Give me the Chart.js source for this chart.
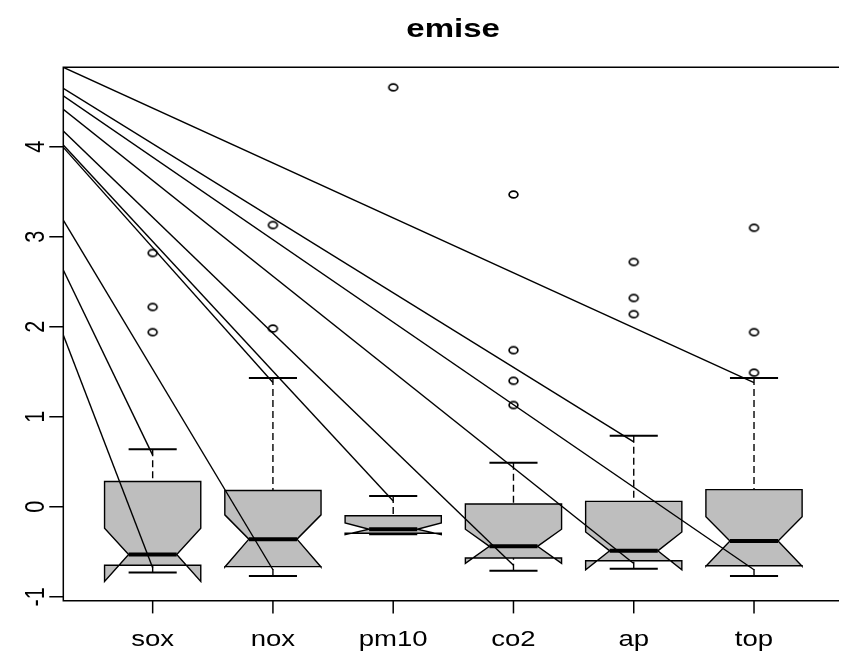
<!DOCTYPE html>
<html>
<head>
<meta charset="utf-8">
<script src="https://cdn.jsdelivr.net/npm/chart.js@4.4.1/dist/chart.umd.min.js"></script>
<style>
  html, body { margin: 0; padding: 0; background: #fff; overflow: hidden; }
  canvas { display: block; }
</style>
</head>
<body>
<canvas id="boxChart" width="843" height="654"></canvas>
<script>
// categories and tick labels
const categories = ['sox', 'nox', 'pm10', 'co2', 'ap', 'top'];
const yTicks = [-1, 0, 1, 2, 3, 4];
const chartTitle = 'emise';

// box statistics
const upperWhisker = [0.64, 1.43, 0.12, 0.49, 0.79, 1.43];
const upperHinge   = [0.28, 0.18, -0.10, 0.03, 0.06, 0.19];
const notchHi      = [-0.24, -0.09, -0.18, -0.25, -0.28, -0.11];
const medians      = [-0.53, -0.36, -0.25, -0.44, -0.49, -0.38];
const notchLo      = [-0.83, -0.67, -0.31, -0.63, -0.70, -0.66];
const lowerHinge   = [-0.65, -0.665, -0.295, -0.57, -0.60, -0.655];
const lowerWhisker = [-0.73, -0.77, -0.305, -0.71, -0.69, -0.77];
const outliers = [
  [2.82, 2.22, 1.94],
  [3.13, 1.98],
  [4.66],
  [3.47, 1.74, 1.40, 1.13],
  [2.72, 2.32, 2.14],
  [3.10, 1.94, 1.49]
];

// straight lines from the left frame down to a box
const lineStartY = [4.883, 4.649, 4.567, 4.416, 4.174, 4.019, 3.993, 3.186, 2.630, 1.908];
const lineEndCat = [6, 5, 6, 5, 4, 3, 2, 2, 1, 1];
const lineEndY   = [1.38, 0.72, -0.70, -0.63, -0.65, 0.063, 1.38, -0.70, 0.574, -0.678];

// axis limits like R's 4% extension
const xMin = 0.257, xMax = 6.69;
const yMin = -1.044, yMax = 4.883;
const boxHalf = 0.4, capHalf = 0.2;

const fontFamily = '"Liberation Sans", Arial, Helvetica, sans-serif';
const stretchX = 1.27;   // the reference is stretched sideways
const boxFill = '#bebebe';

// open circle (slightly wide) for outliers
function makeCircle() {
  const c = document.createElement('canvas');
  c.width = 13; c.height = 11;
  const g = c.getContext('2d');
  g.strokeStyle = '#000';
  g.lineWidth = 1.7;
  g.beginPath();
  g.ellipse(6.5, 5.5, 4.4, 3.4, 0, 0, Math.PI * 2);
  g.stroke();
  return c;
}
const circleImg = makeCircle();

const datasets = [];

lineStartY.forEach((s, i) => {
  datasets.push({
    data: [{ x: xMin, y: s }, { x: lineEndCat[i], y: lineEndY[i] }],
    showLine: true, borderColor: '#000', borderWidth: 1.4, pointRadius: 0, order: 0
  });
});

datasets.push({
  data: outliers.flatMap((vals, i) => vals.map(v => ({ x: i + 1, y: v }))),
  pointStyle: circleImg, pointRadius: 5, order: 1
});

categories.forEach((c, i) => {
  const cx = i + 1;
  const seg = (pts, extra) => Object.assign({
    data: pts, showLine: true, borderColor: '#000', pointRadius: 0, order: 2
  }, extra);
  datasets.push(seg([{ x: cx, y: upperWhisker[i] }, { x: cx, y: upperHinge[i] }], { borderWidth: 1.4, borderDash: [7, 4] }));
  datasets.push(seg([{ x: cx, y: lowerWhisker[i] }, { x: cx, y: lowerHinge[i] }], { borderWidth: 1.4, borderDash: [7, 4] }));
  datasets.push(seg([{ x: cx - capHalf, y: upperWhisker[i] }, { x: cx + capHalf, y: upperWhisker[i] }], { borderWidth: 2 }));
  datasets.push(seg([{ x: cx - capHalf, y: lowerWhisker[i] }, { x: cx + capHalf, y: lowerWhisker[i] }], { borderWidth: 2 }));
  datasets.push(seg([{ x: cx - boxHalf / 2, y: medians[i] }, { x: cx + boxHalf / 2, y: medians[i] }], { borderWidth: 4 }));
});

// stretched text helper
function stretchedText(ctx, text, px, py, font, rot) {
  ctx.save();
  ctx.translate(px, py);
  ctx.scale(stretchX, 1);
  if (rot) ctx.rotate(rot);
  ctx.font = font;
  ctx.fillText(text, 0, 0);
  ctx.restore();
}

const rBoxes = {
  id: 'rBoxes',
  beforeDatasetsDraw(chart) {
    const { ctx, scales: { x, y } } = chart;
    ctx.save();
    categories.forEach((c, i) => {
      const cx = i + 1;
      const pts = [
        [cx - boxHalf, upperHinge[i]], [cx - boxHalf, notchHi[i]], [cx - boxHalf / 2, medians[i]],
        [cx - boxHalf, notchLo[i]], [cx - boxHalf, lowerHinge[i]],
        [cx + boxHalf, lowerHinge[i]], [cx + boxHalf, notchLo[i]], [cx + boxHalf / 2, medians[i]],
        [cx + boxHalf, notchHi[i]], [cx + boxHalf, upperHinge[i]]
      ];
      ctx.beginPath();
      pts.forEach((p, k) => {
        const px = x.getPixelForValue(p[0]), py = y.getPixelForValue(p[1]);
        if (k === 0) ctx.moveTo(px, py); else ctx.lineTo(px, py);
      });
      ctx.closePath();
      ctx.fillStyle = boxFill;
      ctx.fill();
      ctx.lineWidth = 1.4;
      ctx.strokeStyle = '#000';
      ctx.stroke();
    });
    ctx.restore();
  },
  afterDraw(chart) {
    const { ctx, chartArea: a, scales: { x, y } } = chart;
    ctx.save();
    ctx.strokeStyle = '#000';
    ctx.lineWidth = 1.5;
    // frame (right side falls outside the picture)
    ctx.beginPath();
    ctx.moveTo(a.right + 2, a.top);
    ctx.lineTo(a.left, a.top);
    ctx.lineTo(a.left, a.bottom);
    ctx.lineTo(a.right + 2, a.bottom);
    ctx.stroke();

    ctx.fillStyle = '#000';
    // y axis
    ctx.textAlign = 'center';
    ctx.textBaseline = 'alphabetic';
    yTicks.forEach(t => {
      const py = y.getPixelForValue(t);
      ctx.beginPath();
      ctx.moveTo(a.left, py);
      ctx.lineTo(a.left - 14, py);
      ctx.stroke();
      stretchedText(ctx, String(t), 44, py, '21.7px ' + fontFamily, -Math.PI / 2);
    });
    // x axis
    categories.forEach((c, i) => {
      const px = x.getPixelForValue(i + 1);
      ctx.beginPath();
      ctx.moveTo(px, a.bottom);
      ctx.lineTo(px, a.bottom + 12.7);
      ctx.stroke();
      stretchedText(ctx, c, px, 646, '21.7px ' + fontFamily, 0);
    });
    // title
    const mid = (x.getPixelForValue(xMin) + x.getPixelForValue(6.74)) / 2;
    stretchedText(ctx, chartTitle, mid, 37, 'bold 26px ' + fontFamily, 0);
    ctx.restore();
  }
};

new Chart(document.getElementById('boxChart'), {
  type: 'scatter',
  data: { datasets },
  options: {
    responsive: false,
    animation: false,
    layout: { padding: { left: 63.3, top: 67.3, right: 0, bottom: 53.3 } },
    plugins: { legend: { display: false }, tooltip: { enabled: false }, title: { display: false } },
    scales: {
      x: { type: 'linear', min: xMin, max: xMax, display: false },
      y: { type: 'linear', min: yMin, max: yMax, display: false }
    }
  },
  plugins: [rBoxes]
});
</script>
</body>
</html>
